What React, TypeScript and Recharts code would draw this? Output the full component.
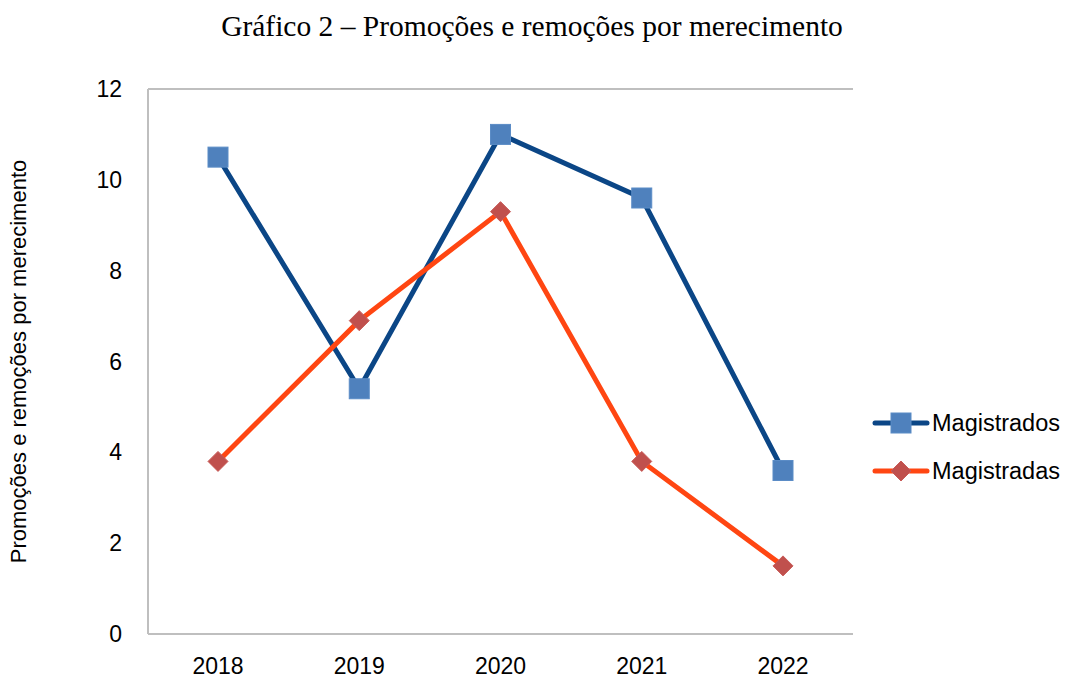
import { LineChart, Line, XAxis, YAxis, CartesianGrid } from "recharts";

const years = ["2018", "2019", "2020", "2021", "2022"];
const magistrados = [10.5, 5.4, 11, 9.6, 3.6];
const magistradas = [3.8, 6.9, 9.3, 3.8, 1.5];
const yTicks = [0, 2, 4, 6, 8, 10, 12];

const data = years.map((year, i) => ({
  year,
  magistrados: magistrados[i],
  magistradas: magistradas[i],
}));

const BLUE_LINE = "#0B4686";
const BLUE_MARK = "#4F81BD";
const ORANGE_LINE = "#FF4612";
const RED_MARK = "#C0504D";
const GRID = "#BFBFBF";
const FONT = "'Liberation Sans', Arial, sans-serif";

const SquareDot = (props: any) => {
  const { cx, cy } = props;
  if (cx == null || cy == null) return null;
  return <rect x={cx - 10} y={cy - 10} width={20} height={20} fill={BLUE_MARK} stroke="#5B8CC6" strokeWidth={1} />;
};

const DiamondDot = (props: any) => {
  const { cx, cy } = props;
  if (cx == null || cy == null) return null;
  const r = 10;
  return (
    <polygon
      points={`${cx},${cy - r} ${cx + r},${cy} ${cx},${cy + r} ${cx - r},${cy}`}
      fill={RED_MARK}
      stroke="#C85A57"
      strokeWidth={1}
    />
  );
};

const legendItems = [
  { name: "Magistrados", color: BLUE_LINE, kind: "square" },
  { name: "Magistradas", color: ORANGE_LINE, kind: "diamond" },
];

export default function App() {
  return (
    <div style={{ position: "absolute", left: 0, top: 0, width: 1069, height: 679, background: "#fff" }}>
      <div
        style={{
          position: "absolute",
          top: 10,
          left: 0,
          width: 1064,
          textAlign: "center",
          fontFamily: "'Liberation Serif', 'Times New Roman', serif",
          fontSize: 29.5,
          color: "#000",
        }}
      >
        Gráfico 2 – Promoções e remoções por merecimento
      </div>
      <LineChart width={1069} height={679} data={data} margin={{ top: 89, right: 216, bottom: 15, left: 88 }}>
        <CartesianGrid vertical={false} stroke={GRID} strokeWidth={2} />
        <XAxis
          dataKey="year"
          padding={{ left: 70, right: 70 }}
          axisLine={{ stroke: GRID, strokeWidth: 2 }}
          tickLine={false}
          tickSize={0}
          tickMargin={24}
          tick={{ fill: "#000", fontSize: 23, fontFamily: FONT }}
        />
        <YAxis
          yAxisId="left"
          width={60}
          domain={[0, 12]}
          ticks={yTicks}
          axisLine={{ stroke: GRID, strokeWidth: 2 }}
          tickLine={false}
          tickSize={0}
          tickMargin={26}
          tick={{ fill: "#000", fontSize: 23, fontFamily: FONT }}
          label={{
            value: "Promoções e remoções por merecimento",
            angle: -90,
            position: "left",
            offset: 70,
            style: { textAnchor: "middle", fill: "#000", fontSize: 22, fontFamily: FONT },
          }}
        />
        <YAxis
          yAxisId="right"
          orientation="right"
          width={0}
          domain={[0, 12]}
          ticks={yTicks}
          axisLine={{ stroke: GRID, strokeWidth: 2 }}
          tickLine={false}
          tick={false}
        />
        <Line
          yAxisId="left"
          dataKey="magistrados"
          name="Magistrados"
          stroke={BLUE_LINE}
          strokeWidth={5}
          dot={<SquareDot />}
          activeDot={false}
          isAnimationActive={false}
        />
        <Line
          yAxisId="left"
          dataKey="magistradas"
          name="Magistradas"
          stroke={ORANGE_LINE}
          strokeWidth={5}
          dot={<DiamondDot />}
          activeDot={false}
          isAnimationActive={false}
        />
      </LineChart>
      {legendItems.map((item, i) => (
        <div
          key={item.name}
          style={{
            position: "absolute",
            left: 872,
            top: 408 + i * 48,
            display: "flex",
            alignItems: "center",
            height: 30,
            fontFamily: FONT,
            fontSize: 23.5,
            color: "#000",
          }}
        >
          <svg width={58} height={30}>
            <line x1={3} y1={15} x2={55} y2={15} stroke={item.color} strokeWidth={5} strokeLinecap="round" />
            {item.kind === "square" ? (
              <SquareDot cx={29} cy={15} />
            ) : (
              <DiamondDot cx={29} cy={15} />
            )}
          </svg>
          <span style={{ marginLeft: 2 }}>{item.name}</span>
        </div>
      ))}
    </div>
  );
}
